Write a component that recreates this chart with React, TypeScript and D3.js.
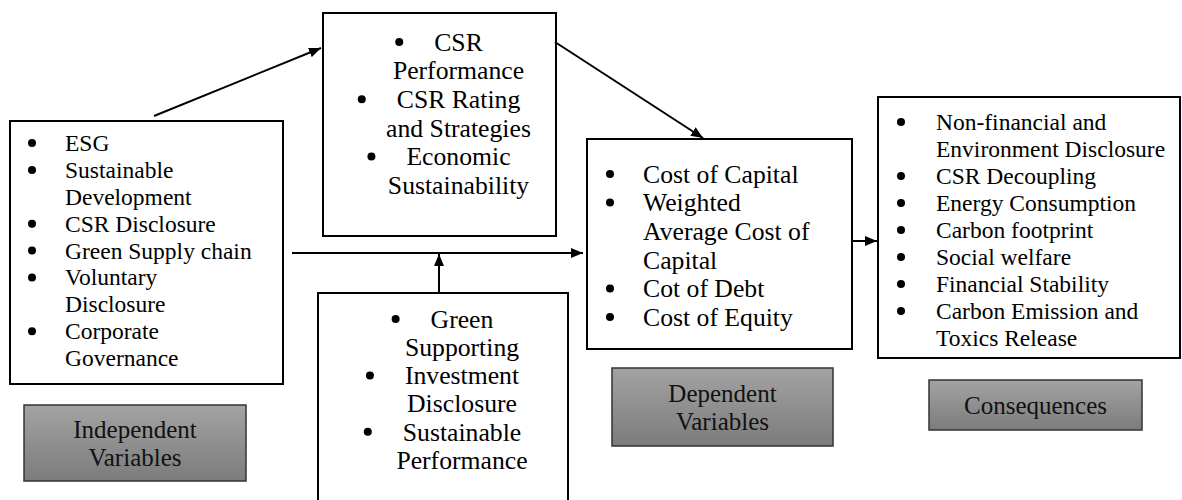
import * as d3 from "d3";
import { useEffect, useRef } from "react";

// bullet items, each item is its list of wrapped lines
const independentItems = [
  ["ESG"],
  ["Sustainable", "Development"],
  ["CSR Disclosure"],
  ["Green Supply chain"],
  ["Voluntary", "Disclosure"],
  ["Corporate", "Governance"],
];
const mediatingItems = [
  ["CSR", "Performance"],
  ["CSR Rating", "and Strategies"],
  ["Economic", "Sustainability"],
];
const moderatingItems = [
  ["Green", "Supporting"],
  ["Investment", "Disclosure"],
  ["Sustainable", "Performance"],
];
const dependentItems = [
  ["Cost of Capital"],
  ["Weighted", "Average Cost of", "Capital"],
  ["Cot of Debt"],
  ["Cost of Equity"],
];
const consequenceItems = [
  ["Non-financial and", "Environment Disclosure"],
  ["CSR Decoupling"],
  ["Energy Consumption"],
  ["Carbon footprint"],
  ["Social welfare"],
  ["Financial Stability"],
  ["Carbon Emission and", "Toxics Release"],
];
const captionLabels = [
  ["Independent", "Variables"],
  ["Dependent", "Variables"],
  ["Consequences"],
];

const FONT = "Liberation Serif, Times New Roman, Times, DejaVu Serif, serif";

interface Box {
  x: number;
  y: number;
  w: number;
  h: number;
  align: "left" | "center";
  fs: number;
  lh: number;
  first: number; // centre of first text line, from box top
  bullet?: number;
  text?: number;
  items: string[][];
}

const App = () => {
  const svgRef = useRef<SVGSVGElement>(null);

  useEffect(() => {
    const svg = d3.select(svgRef.current);
    svg.selectAll("*").remove();

    const width = 1182;
    const height = 500;
    svg.attr("width", width).attr("height", height).attr("font-family", FONT);

    const defs = svg.append("defs");
    defs
      .append("marker")
      .attr("id", "head")
      .attr("viewBox", "0 0 12 10")
      .attr("refX", 12)
      .attr("refY", 5)
      .attr("markerWidth", 12)
      .attr("markerHeight", 10)
      .attr("markerUnits", "userSpaceOnUse")
      .attr("orient", "auto")
      .append("path")
      .attr("d", "M0,0L12,5L0,10Z")
      .attr("fill", "#000");

    const grad = defs
      .append("linearGradient")
      .attr("id", "grey")
      .attr("x1", 0)
      .attr("y1", 0)
      .attr("x2", 0)
      .attr("y2", 1);
    grad.append("stop").attr("offset", "0%").attr("stop-color", "#a3a3a3");
    grad.append("stop").attr("offset", "100%").attr("stop-color", "#7c7c7c");

    const indep: Box = { x: 10, y: 121, w: 273, h: 263, align: "left", fs: 23.5, lh: 26.9, first: 22, bullet: 22, text: 55, items: independentItems };
    const mediat: Box = { x: 323, y: 13, w: 233, h: 223, align: "center", fs: 25.7, lh: 28.6, first: 29, items: mediatingItems };
    const moder: Box = { x: 318, y: 293, w: 250, h: 215, align: "center", fs: 25.7, lh: 28.2, first: 26, items: moderatingItems };
    const dep: Box = { x: 587, y: 139, w: 265, h: 210, align: "left", fs: 25.7, lh: 28.6, first: 35, bullet: 23, text: 56, items: dependentItems };
    const cons: Box = { x: 878, y: 97, w: 302, h: 261, align: "left", fs: 23.5, lh: 27, first: 25, bullet: 23, text: 58, items: consequenceItems };
    const boxes = [indep, mediat, moder, dep, cons];

    boxes.forEach((b) => {
      const g = svg.append("g");
      g.append("rect")
        .attr("x", b.x)
        .attr("y", b.y)
        .attr("width", b.w)
        .attr("height", b.h)
        .attr("fill", "#fff")
        .attr("stroke", "#000")
        .attr("stroke-width", 2);

      let row = 0;
      const cx = b.x + b.w / 2 + 19;
      b.items.forEach((lines) => {
        lines.forEach((line, j) => {
          const cy = b.y + b.first + row * b.lh;
          const t = g
            .append("text")
            .attr("y", cy + b.fs * 0.34)
            .attr("font-size", b.fs)
            .attr("fill", "#000")
            .text(line);
          let bx = 0;
          if (b.align === "left") {
            t.attr("x", b.x + (b.text as number));
            bx = b.x + (b.bullet as number);
          } else {
            t.attr("x", cx).attr("text-anchor", "middle");
            const w = (t.node() as SVGTextElement).getComputedTextLength();
            bx = cx - w / 2 - 35;
          }
          if (j === 0) {
            g.append("circle").attr("cx", bx).attr("cy", cy).attr("r", 4).attr("fill", "#000");
          }
          row++;
        });
      });
    });

    // grey caption boxes
    const captions = [
      { x: 24, y: 405, w: 222, h: 76 },
      { x: 612, y: 368, w: 221, h: 78 },
      { x: 929, y: 380, w: 213, h: 50 },
    ];
    captions.forEach((c, i) => {
      svg
        .append("rect")
        .attr("x", c.x)
        .attr("y", c.y)
        .attr("width", c.w)
        .attr("height", c.h)
        .attr("fill", "url(#grey)")
        .attr("stroke", "#333")
        .attr("stroke-width", 1.5);
      const lines = captionLabels[i];
      const lh = 28;
      const mid = c.y + c.h / 2;
      lines.forEach((line, j) => {
        svg
          .append("text")
          .attr("x", c.x + c.w / 2)
          .attr("y", mid + (j - (lines.length - 1) / 2) * lh + 25 * 0.34)
          .attr("text-anchor", "middle")
          .attr("font-size", 25)
          .attr("fill", "#111")
          .text(line);
      });
    });

    // arrows between the boxes
    const arrows: [number, number, number, number][] = [
      [154, indep.y - 5, mediat.x - 2, 48],
      [mediat.x + mediat.w - 1, 42, 703, dep.y - 1],
      [indep.x + indep.w + 9, 253, dep.x - 4, 253],
      [moder.x + 121, moder.y - 1, moder.x + 121, 254],
      [dep.x + dep.w, 241, cons.x - 1, 241],
    ];
    svg
      .selectAll(".arrow")
      .data(arrows)
      .enter()
      .append("line")
      .attr("class", "arrow")
      .attr("x1", (d) => d[0])
      .attr("y1", (d) => d[1])
      .attr("x2", (d) => d[2])
      .attr("y2", (d) => d[3])
      .attr("stroke", "#000")
      .attr("stroke-width", 2)
      .attr("marker-end", "url(#head)");
  }, []);

  return (
    <svg
      ref={svgRef}
      style={{ position: "absolute", left: 0, top: 0, background: "#fff" }}
    ></svg>
  );
};

export default App;
